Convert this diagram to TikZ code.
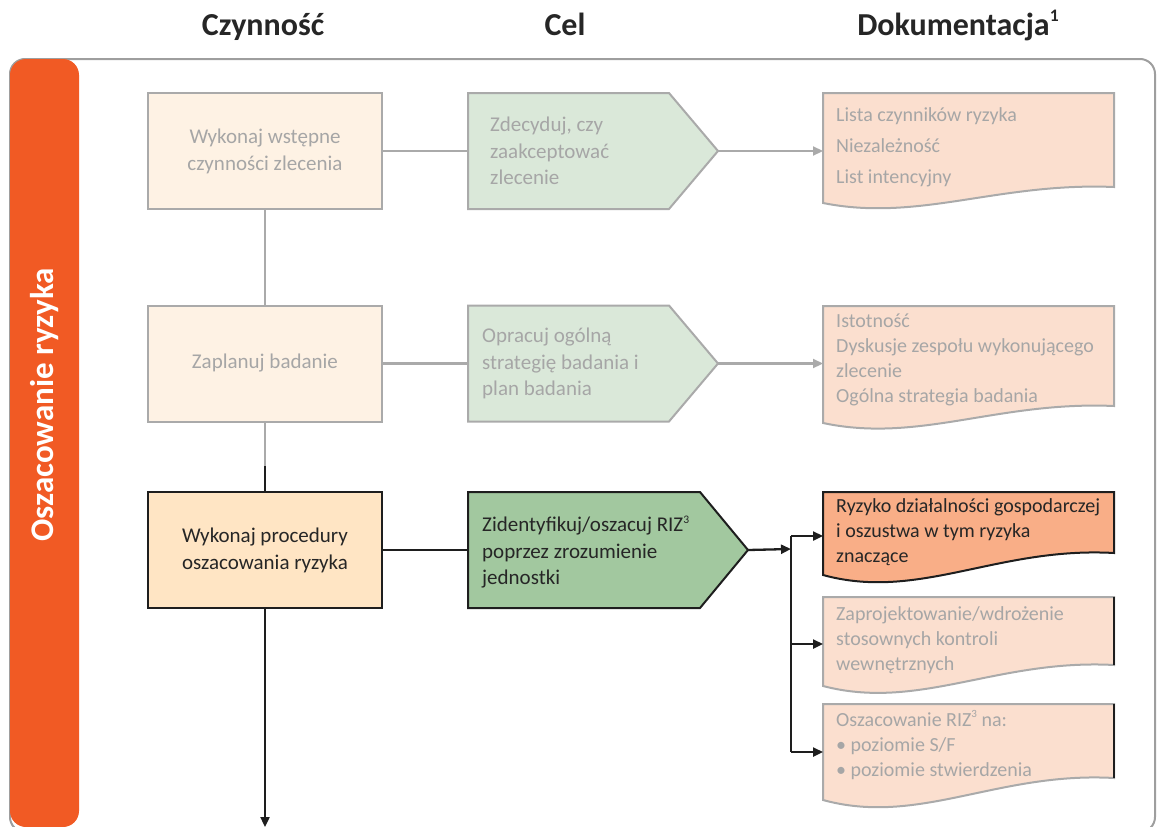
\documentclass[tikz,border=0pt]{standalone}
\usepackage{fontspec}
\setmainfont{Carlito}
\usetikzlibrary{calc,arrows.meta}

\definecolor{barorange}{HTML}{F15A24}
\definecolor{framegray}{HTML}{9E9E9E}
\definecolor{softline}{HTML}{AAAAAA}
\definecolor{softtext}{HTML}{A6A6A6}
\definecolor{darkline}{HTML}{1E1E1E}
\definecolor{darktext}{HTML}{262626}
\definecolor{creamfill}{HTML}{FEF2E4}
\definecolor{peachfill}{HTML}{FFE5C4}
\definecolor{palegreen}{HTML}{DAE8D9}
\definecolor{midgreen}{HTML}{A2C89F}
\definecolor{palesalmon}{HTML}{FBDFCF}
\definecolor{salmon}{HTML}{F9AE87}

% pentagon arrow box drawn around an empty geometry node
\newcommand{\pentagonbox}[3]{%
  \draw[#3] (#1.north west) -- ($(#1.north east)+(-#2,0)$) -- (#1.east)
    -- ($(#1.south east)+(-#2,0)$) -- (#1.south west) -- cycle;}

% document shape with a wavy bottom edge; #2 = rise of the right corner
\newcommand{\docwave}[3]{%
  \draw[#3] (#1.north west) -- (#1.north east) -- ($(#1.south east)+(0,-#2)$)
    .. controls ($(#1.south west)!0.6!(#1.south east)+(0,-1.3*#2)$)
       and ($(#1.south west)!0.33!(#1.south east)+(0,1.2*#2)$) .. (#1.south west) -- cycle;}

% small raised footnote numeral
\newcommand{\fnmark}[1]{\raisebox{0.42em}{\scalebox{0.55}{#1}}}

\begin{document}
\begin{tikzpicture}[x=1pt,y=-1pt,
  geom/.style={draw=none,inner sep=0pt,outer sep=0pt,minimum width=#1},
  actbox/.style={draw,line width=2pt,inner sep=0pt,minimum width=234pt,minimum height=116pt,
    align=center,font=\fontsize{21}{27}\selectfont},
  softact/.style={actbox,draw=softline,fill=creamfill,text=softtext},
  hotact/.style={actbox,draw=darkline,fill=peachfill,text=darktext},
  softpent/.style={draw=softline,line width=2pt,fill=palegreen},
  hotpent/.style={draw=darkline,line width=2pt,fill=midgreen},
  softdoc/.style={draw=softline,line width=2pt,fill=palesalmon},
  hotdoc/.style={draw=darkline,line width=2pt,fill=salmon},
  celtxt/.style={anchor=west,align=left,inner sep=0pt,font=\fontsize{21}{26.5}\selectfont},
  doctxt/.style={anchor=west,align=left,inner sep=0pt,font=\fontsize{20}{25}\selectfont},
  hdr/.style={anchor=base,inner sep=0pt,text=darktext,font=\fontsize{32}{36}\selectfont\bfseries},
  softconn/.style={draw=softline,line width=2.2pt},
  softarrow/.style={softconn,-{Triangle[length=10pt,width=9pt]}},
  hardconn/.style={draw=darkline,line width=2.3pt},
  hardarrow/.style={hardconn,-{Triangle[length=10pt,width=9pt]}}]

\useasboundingbox (0,0) rectangle (1162,827);

% column headers
\node[hdr] (hact) at (263,35) {Czynność};
\node[hdr] (hgoal) at (565,35) {Cel};
\node[hdr] (hdoc) at (958,35) {Dokumentacja\fnmark{1}};

% outer frame and phase band
\draw[framegray,line width=2pt,rounded corners=15pt] (10,59) rectangle (1155,832);
\node[fill=barorange,rounded corners=16pt,inner sep=0pt,minimum width=69pt,minimum height=768pt]
  (band) at (44.5,443) {};
\node[rotate=90,inner sep=0pt,text=white,font=\fontsize{33}{36}\selectfont\bfseries]
  (bandtxt) at (45,405) {Oszacowanie ryzyka};

% activity column
\node[softact] (a1) at (265,151) {Wykonaj wstępne\\czynności zlecenia};
\node[softact] (a2) at (265,363.5) {Zaplanuj badanie};
\node[hotact]  (a3) at (265,550) {Wykonaj procedury\\oszacowania ryzyka};

% goal column: geometry, outlines, texts
\node[geom=250pt,minimum height=116pt] (b1) at (593,151) {};
\node[geom=250pt,minimum height=116pt] (b2) at (593,363.5) {};
\node[geom=280pt,minimum height=116pt] (b3) at (608,550) {};
\pentagonbox{b1}{49}{softpent}
\pentagonbox{b2}{49}{softpent}
\pentagonbox{b3}{48}{hotpent}
\node[celtxt,text=softtext] (b1t) at (490,151) {Zdecyduj, czy\\zaakceptować\\zlecenie};
\node[celtxt,text=softtext] (b2t) at (482,363.5) {Opracuj ogólną\\strategię badania i\\plan badania};
\node[celtxt,text=darktext] (b3t) at (482,552) {Zidentyfikuj/oszacuj RIZ\fnmark{3}\\poprzez zrozumienie\\jednostki};

% documentation column: geometry, outlines, texts
\node[geom=291pt,minimum height=110pt] (c1) at (968.5,148) {};
\node[geom=291pt,minimum height=117pt] (c2) at (968.5,364.5) {};
\node[geom=291pt,minimum height=83pt]  (c3a) at (968.5,533.5) {};
\node[geom=291pt,minimum height=89pt]  (c3b) at (968.5,641.5) {};
\node[geom=291pt,minimum height=96pt]  (c3c) at (968.5,752) {};
\docwave{c1}{16}{softdoc}
\docwave{c2}{17}{softdoc}
\docwave{c3a}{22}{hotdoc}
\docwave{c3b}{21}{softdoc}
\docwave{c3c}{22}{softdoc}
\draw[darkline,line width=2pt] (c3b.north east) -- ($(c3b.south east)+(0,-21)$);
\draw[darkline,line width=2pt] (c3c.north east) -- ($(c3c.south east)+(0,-22)$);

\node[doctxt,text=softtext,font=\fontsize{20}{31}\selectfont] (c1t) at (836,147)
  {Lista czynników ryzyka\\Niezależność\\List intencyjny};
\node[doctxt,text=softtext] (c2t) at (836,360)
  {Istotność\\Dyskusje zespołu wykonującego\\zlecenie\\Ogólna strategia badania};
\node[doctxt,text=darktext] (c3at) at (836,532)
  {Ryzyko działalności gospodarczej\\i oszustwa w tym ryzyka\\znaczące};
\node[doctxt,text=softtext] (c3bt) at (836,640)
  {Zaprojektowanie/wdrożenie\\stosownych kontroli\\wewnętrznych};
\node[doctxt,text=softtext] (c3ct) at (836,745)
  {Oszacowanie RIZ\fnmark{3} na:\\• poziomie S/F\\• poziomie stwierdzenia};

% connectors
\coordinate (mid) at (265,466);
\coordinate (fork) at (791,549);
\coordinate (ja) at (791,536);
\coordinate (jb) at (791,644);
\coordinate (jc) at (791,752);
\coordinate (exit) at (265,827);

\draw[softconn] (a1.south) -- (a2.north);
\draw[softconn] (a2.south) -- (mid);
\draw[hardconn] (mid) -- (a3.north);
\draw[hardarrow] (a3.south) -- (exit);

\draw[softconn] (a1.east) -- (b1.west);
\draw[softconn] (a2.east) -- (b2.west);
\draw[hardconn] (a3.east) -- (b3.west);

\draw[softarrow] (b1.east) -- (b1.east -| c1.west);
\draw[softarrow] (b2.east) -- (b2.east -| c2.west);
\draw[hardarrow] (b3.east) -- (fork);
\draw[hardconn] (ja) -- (jc);
\draw[hardarrow] (ja) -- (ja -| c3a.west);
\draw[hardarrow] (jb) -- (jb -| c3b.west);
\draw[hardarrow] (jc) -- (jc -| c3c.west);

\end{tikzpicture}
\end{document}
